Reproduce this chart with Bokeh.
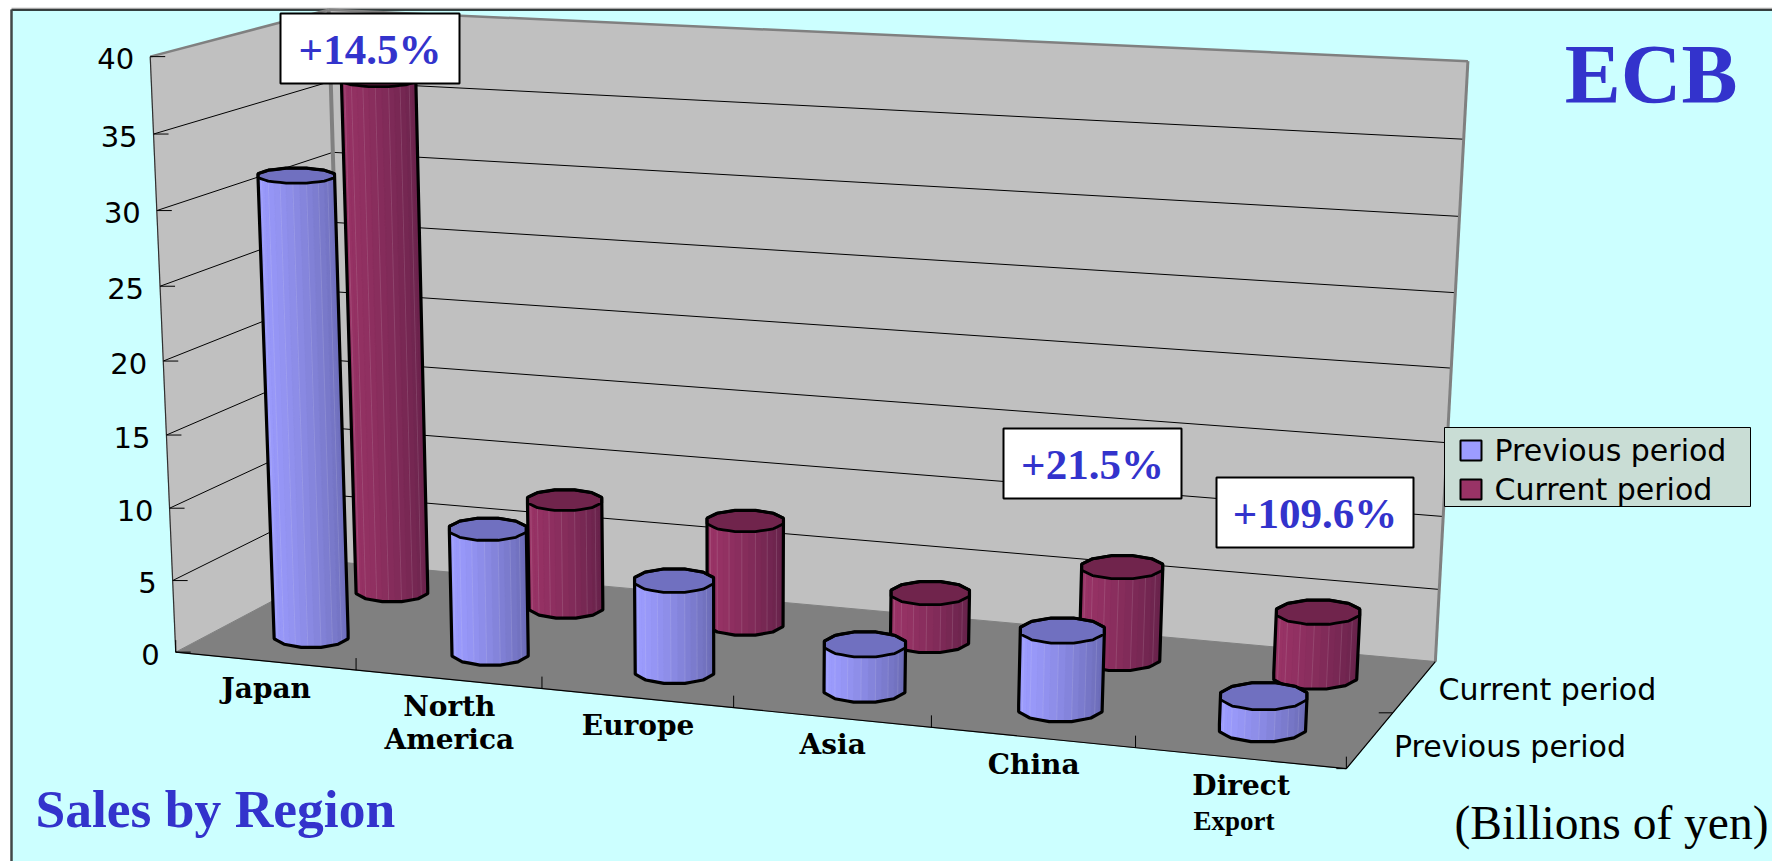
from bokeh.core.properties import value
from bokeh.embed import file_html
from bokeh.models import Range1d
from bokeh.plotting import figure
from bokeh.resources import INLINE
import numpy as np

# ---- chart data (billions of yen) ----
categories = [["Japan"], ["North", "America"], ["Europe"], ["Asia"], ["China"], ["Direct", "Export"]]
series_names = ["Previous period", "Current period"]
previous = [31.6, 8.6, 6.2, 3.05, 5.2, 2.1]
current = [36.2, 7.7, 7.3, 3.35, 6.32, 4.4]
value_ticks = [0, 5, 10, 15, 20, 25, 30, 35, 40]
growth_notes = ["+14.5%", "+21.5%", "+109.6%"]

# ---- colours ----
BG = "#ccffff"
WALL = "#c0c0c0"
FLOOR = "#808080"
TITLE_BLUE = "#3333cc"
LEGEND_BG = "#c9ddd5"
SHADES = {
    0: ("#9c9cff", "#6a6ab4", "#7070c0"),
    1: ("#993366", "#66224a", "#70244c"),
}

W, H = 1772, 861
VMAX = 40.0
N_CAT = len(categories)

# ---- perspective camera, solved from where the plot box corners land on the page ----
box_corners = [
    ((0, 0, 0), (178.6, 651)),
    ((1, 0, 0), (1345, 770)),
    ((1, 1, 0), (1436, 659)),
    ((0, 1, 0), (341, 563)),
    ((0, 0, 1), (147, 55)),
    ((1, 1, 1), (1467, 61)),
    ((0, 1, 1), (331, 10)),
]


def solve_camera(pairs):
    rows = []
    for (a, b, c), (x, y) in pairs:
        rows.append([a, b, c, 1, 0, 0, 0, 0, -x * a, -x * b, -x * c, -x])
        rows.append([0, 0, 0, 0, a, b, c, 1, -y * a, -y * b, -y * c, -y])
    _, _, vt = np.linalg.svd(np.array(rows, dtype=float))
    return vt[-1].reshape(3, 4)


CAM = solve_camera(box_corners)


def project(u, v, val):
    """Depth-aware page position of category fraction u, depth v and a data value."""
    u, v, val = np.broadcast_arrays(np.asarray(u, float), np.asarray(v, float), np.asarray(val, float))
    world = np.stack([u, v, val / VMAX, np.ones_like(u, dtype=float)], axis=-1)
    out = world @ CAM.T
    return out[..., 0] / out[..., 2], out[..., 1] / out[..., 2]


def mix(c1, c2, t):
    a = [int(c1[i:i + 2], 16) for i in (1, 3, 5)]
    b = [int(c2[i:i + 2], 16) for i in (1, 3, 5)]
    return "#%02x%02x%02x" % tuple(round(p + (q - p) * t) for p, q in zip(a, b))


def hull(pts):
    pts = sorted(set(map(tuple, pts)))

    def half(seq):
        out = []
        for q in seq:
            while len(out) > 1 and (out[-1][0] - out[-2][0]) * (q[1] - out[-2][1]) - (out[-1][1] - out[-2][1]) * (q[0] - out[-2][0]) <= 0:
                out.pop()
            out.append(q)
        return out[:-1]

    return half(pts) + half(pts[::-1])


p = figure(width=W, height=H, x_range=Range1d(0, W), y_range=Range1d(H, 0),
           output_backend="svg", toolbar_location=None, min_border=0,
           background_fill_color="white", border_fill_color="white", outline_line_color=None)
p.axis.visible = False
p.grid.visible = False


def label(x, y, text, size, font="Liberation Sans", style="normal", color="black", align="left"):
    p.text(x=[x], y=[y], text=[text], text_font=value(font), text_font_size=value(f"{size}px"),
           text_font_style=style, text_color=color, text_align=align, text_baseline="middle")


def face(u, v, h, fill, line=None, width=1):
    x, y = project(u, v, h)
    p.patch(list(x), list(y), fill_color=fill, line_color=line or fill, line_width=width)


def seg(a, b, color="black", width=1):
    x0, y0 = project(*a)
    x1, y1 = project(*b)
    p.line([float(x0), float(x1)], [float(y0), float(y1)], line_color=color, line_width=width)


# page panel with its grey rule above and dark rule on the left
p.line([11, W], [8, 8], line_color="#a8a8a8", line_width=1.5)
p.quad(left=[11], right=[W + 2], top=[9], bottom=[H + 2], fill_color=BG, line_color=None)
p.line([11, W], [9.5, 9.5], line_color="black", line_width=1.5)
p.line([11, 11], [9, H], line_color="#404848", line_width=2.5)

# walls and floor of the plot box
face([0, 0, 0, 0], [0, 0, 1, 1], [0, VMAX, VMAX, 0], WALL)
face([0, 1, 1, 0], [1, 1, 1, 1], [0, 0, VMAX, VMAX], WALL)
face([0, 1, 1, 0], [0, 0, 1, 1], [0, 0, 0, 0], FLOOR)

# gridlines along the left and back walls
for tick in value_ticks[1:-1]:
    seg((0, 0, tick), (0, 1, tick))
    seg((0, 1, tick), (1, 1, tick))

seg((0, 0, VMAX), (0, 1, VMAX), FLOOR, 2.5)
seg((0, 1, VMAX), (1, 1, VMAX), FLOOR, 2.5)
seg((0, 1, 0), (0, 1, VMAX), FLOOR, 4)
seg((1, 1, 0), (1, 1, VMAX), FLOOR, 3)
seg((0, 0, 0), (0, 0, VMAX), "#303030", 1.2)
seg((0, 0, 0), (1, 0, 0), "black", 1.2)
seg((1, 0, 0), (1, 1, 0), "black", 1.2)

# value axis ticks and labels on the front edge of the left wall
for tick in value_ticks:
    x, y = project(0, 0, tick)
    p.line([float(x), float(x) + 15], [float(y), float(y)], line_color="black", line_width=1)
    label(float(x) - 16, float(y) + 2, str(tick), 29, "DejaVu Sans", align="right")

# category ticks and labels
for i in range(N_CAT + 1):
    x, y = project(i / N_CAT, 0, 0)
    p.line([float(x), float(x)], [float(y), float(y) - 12], line_color="black", line_width=1)
    if i == N_CAT:
        p.line([float(x), float(x) - 10], [float(y), float(y)], line_color="black", line_width=1)

for i, lines in enumerate(categories):
    x, y = project((i + 0.5) / N_CAT, 0, 0)
    for j, text in enumerate(lines):
        if text == "Export":
            label(float(x) - 6, float(y) + 63, text, 27, "Liberation Serif", "bold", align="center")
        else:
            label(float(x) + 1, float(y) + 27 + 33 * j, text, 28, "DejaVu Serif", "bold", align="center")

# series (depth) axis labels and tick
for k, name in enumerate(series_names):
    x, y = project(1, 0.25 + 0.5 * k, 0)
    label(float(x) + 24, float(y) + 6 - 3 * k, name, 30, "DejaVu Sans")
x, y = project(1, 0.5, 0)
p.line([float(x), float(x) - 14], [float(y), float(y)], line_color="black", line_width=1)

# cylinders: current-period row first so the nearer row overlaps it
R_U, R_V = 0.036, 0.13
ROW_DEPTH = [0.265, 0.76]
ANGLES = np.linspace(0, 2 * np.pi, 12, endpoint=False) + np.pi / 12
STEPS = 3


def outline_ring():
    cx, cy = np.cos(ANGLES), np.sin(ANGLES)
    xs, ys = [], []
    for a in range(len(ANGLES)):
        b = (a + 1) % len(ANGLES)
        for s in range(STEPS):
            t = s / STEPS
            xs.append(cx[a] * (1 - t) + cx[b] * t)
            ys.append(cy[a] * (1 - t) + cy[b] * t)
    return np.array(xs), np.array(ys)


def lid_ring(u, v, val, rx_unit, ry_unit):
    """Ring on the page around a column's axis, sized by the local perspective scale."""
    cx, cy = project(u, v, val)
    x_left, _ = project(u - R_U, v, val)
    x_right, _ = project(u + R_U, v, val)
    _, y_back = project(u, v + R_V, val)
    _, y_front = project(u, v - R_V, val)
    return cx + rx_unit * (x_right - x_left) / 2, cy - ry_unit * (y_front - y_back) / 2


def cylinder(cat, row, val):
    light, dark, lid = SHADES[row]
    ring_x, ring_y = outline_ring()
    u = (cat + 0.5) / N_CAT - (0.004 * cat / (N_CAT - 1) if row == 0 else 0.0)
    v = ROW_DEPTH[row]
    tx, ty = lid_ring(u, v, val, ring_x, ring_y)
    bx, by = lid_ring(u, v, 0.0, ring_x, ring_y)
    xmin, xmax = min(tx.min(), bx.min()), max(tx.max(), bx.max())
    xs, ys, fills, streak_x, streak_y = [], [], [], [], []
    n = len(ring_x)
    for a in range(n):
        b = (a + 1) % n
        if (ring_y[a] + ring_y[b]) / 2 > 0.25:
            continue
        xs.append([tx[a], tx[b], bx[b], bx[a]])
        ys.append([ty[a], ty[b], by[b], by[a]])
        frac = ((tx[a] + tx[b] + bx[a] + bx[b]) / 4 - xmin) / (xmax - xmin)
        fills.append(mix(light, dark, float(np.clip(frac, 0, 1)) ** 1.4))
        streak_x.append([tx[a], bx[a]])
        streak_y.append([ty[a], by[a]])
    shell = hull(list(zip(tx.tolist(), ty.tolist())) + list(zip(bx.tolist(), by.tolist())))
    p.patch([q[0] for q in shell], [q[1] for q in shell], fill_color=mix(light, dark, 0.5), line_color=None)
    p.patches(xs, ys, fill_color=fills, line_color=fills, line_width=0.6)
    p.multi_line(streak_x[::2], streak_y[::2], line_color="white", line_alpha=0.16, line_width=0.8)
    p.patch(tx.tolist(), ty.tolist(), fill_color=lid, line_color="black", line_width=2.8)
    p.patch([q[0] for q in shell], [q[1] for q in shell], fill_color=None, line_color="black", line_width=3.2)


for row, values in ((1, current), (0, previous)):
    for cat, val in enumerate(values):
        cylinder(cat, row, val)

# growth callouts
for note, (l, r, t, b) in zip(growth_notes, [(280, 459, 13, 83), (1003, 1181, 428, 498), (1216, 1413, 477, 547)]):
    p.quad(left=[l], right=[r], top=[t], bottom=[b], fill_color="white", line_color="black", line_width=2)
    label((l + r) / 2, (t + b) / 2 + 1, note, 43, "Liberation Serif", "bold", TITLE_BLUE, "center")

# legend
p.quad(left=[1444], right=[1750], top=[427], bottom=[506], fill_color=LEGEND_BG, line_color="black", line_width=1)
for k, name in enumerate(series_names):
    top = 440 + 39 * k
    p.quad(left=[1460], right=[1481], top=[top], bottom=[top + 20], fill_color=SHADES[k][0],
           line_color="black", line_width=2)
    label(1494, top + 10, name, 30, "DejaVu Sans")

# headline texts
label(1737, 74, "ECB", 84, "Liberation Serif", "bold", TITLE_BLUE, "right")
label(35, 808, "Sales by Region", 53.5, "Liberation Serif", "bold", TITLE_BLUE)
label(1768, 822, "(Billions of yen)", 47.5, "Liberation Serif", align="right")

open("out.html", "w").write(file_html(p, INLINE))
